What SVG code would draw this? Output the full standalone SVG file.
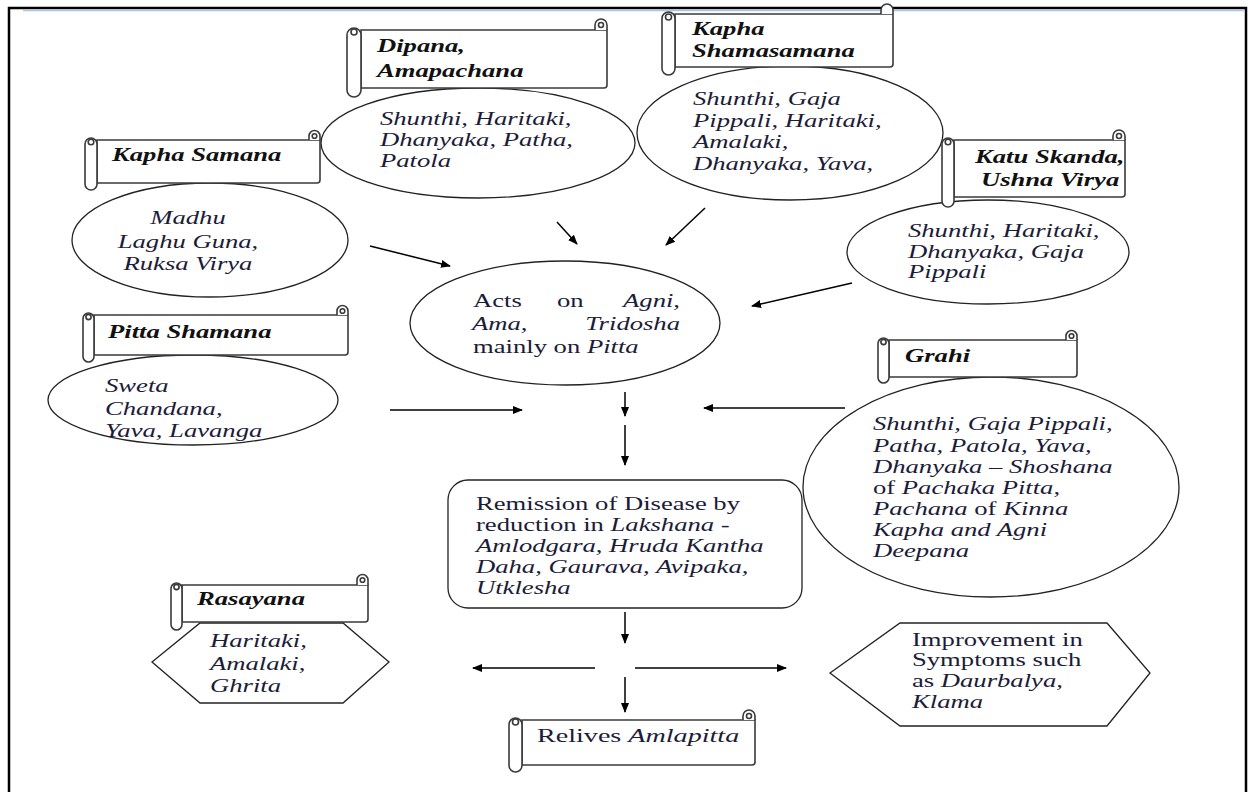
<svg xmlns="http://www.w3.org/2000/svg" width="1254" height="792" viewBox="0 0 1254 792">
<style>
.sb{fill:#fff;stroke:#3a3a3a;stroke-width:1.6}
.nd{fill:#fff;stroke:#222;stroke-width:1.3}
.ttl{font-family:"Liberation Serif",serif;font-size:18px;font-weight:bold;font-style:italic;fill:#111}
.tx{font-family:"Liberation Serif",serif;font-size:18px;font-style:italic;fill:#1c1c38}
.r{font-style:normal}
.big{font-size:19px}
.cn line{stroke:#000;stroke-width:1.5;marker-end:url(#ah)}
</style>
<defs>
<marker id="ah" viewBox="0 0 10 10" refX="9" refY="5" markerWidth="10" markerHeight="10" markerUnits="userSpaceOnUse" orient="auto"><path d="M0,1 L10,5 L0,9 z" fill="#000"/></marker>
</defs>
<rect x="0" y="0" width="1254" height="792" fill="#fff"/>
<rect x="9" y="8" width="1237" height="792" fill="none" stroke="#000" stroke-width="2.5"/>
<line x1="23" y1="10.5" x2="1244" y2="10.5" stroke="#a9c6e4" stroke-width="1.6"/>

<!-- Dipana -->
<g id="dipana">
<ellipse class="nd" cx="478" cy="143" rx="157" ry="55"/>
<path class="sb" d="M361,30 H607 V85 Q607,88 604,88 H361 Z"/>
<path class="sb" d="M595,30 V25 A6,6 0 0 1 607,25 V30"/>
<circle class="sb" cx="601" cy="25" r="2.5"/>
<rect class="sb" x="347" y="28" width="14" height="69" rx="7"/>
<circle class="sb" cx="354" cy="32" r="3"/>
<text class="ttl" transform="translate(377,52) scale(1.48,1)"><tspan x="0" y="0">Dipana,</tspan><tspan x="0" y="25">Amapachana</tspan></text>
<text class="tx" transform="translate(380,125) scale(1.48,1)"><tspan x="0" y="0">Shunthi, Haritaki,</tspan><tspan x="0" y="21">Dhanyaka, Patha,</tspan><tspan x="0" y="42">Patola</tspan></text>
</g>

<!-- Kapha Shamasamana -->
<g id="kapha-shamasamana">
<ellipse class="nd" cx="790" cy="133" rx="153" ry="67"/>
<path class="sb" d="M675,14 H893 V64 Q893,67 890,67 H675 Z"/>
<path class="sb" d="M881,14 V10 A6,6 0 0 1 893,10 V14"/>
<rect class="sb" x="662" y="12" width="13" height="63" rx="6.5"/>
<circle class="sb" cx="668.5" cy="17" r="3"/>
<text class="ttl" transform="translate(692,35) scale(1.48,1)"><tspan x="0" y="0">Kapha</tspan><tspan x="0" y="22">Shamasamana</tspan></text>
<text class="tx" transform="translate(693,105) scale(1.48,1)"><tspan x="0" y="0">Shunthi, Gaja</tspan><tspan x="0" y="22">Pippali, Haritaki,</tspan><tspan x="0" y="43">Amalaki,</tspan><tspan x="0" y="65">Dhanyaka, Yava,</tspan></text>
</g>

<!-- Kapha Samana -->
<g id="kapha-samana">
<ellipse class="nd" cx="210" cy="240" rx="138" ry="57"/>
<path class="sb" d="M97,140 H320 V180 Q320,183 317,183 H97 Z"/>
<path class="sb" d="M309,140 V136 A5.5,5.5 0 0 1 320,136 V140"/>
<circle class="sb" cx="314.5" cy="136" r="2.3"/>
<rect class="sb" x="85" y="138" width="12" height="52" rx="6"/>
<circle class="sb" cx="91" cy="142" r="2.8"/>
<text class="ttl" transform="translate(112,161) scale(1.48,1)">Kapha Samana</text>
<text class="tx" text-anchor="middle" transform="translate(188,224) scale(1.48,1)"><tspan x="0" y="0">Madhu</tspan><tspan x="0" y="24">Laghu Guna,</tspan><tspan x="0" y="46">Ruksa Virya</tspan></text>
</g>

<!-- Katu Skanda -->
<g id="katu-skanda">
<ellipse class="nd" cx="988" cy="252" rx="141" ry="52"/>
<path class="sb" d="M954,140 H1125 V194 Q1125,197 1122,197 H954 Z"/>
<path class="sb" d="M1113,140 V136 A6,6 0 0 1 1125,136 V140"/>
<circle class="sb" cx="1119" cy="136" r="2.5"/>
<rect class="sb" x="942" y="138" width="12" height="69" rx="6"/>
<circle class="sb" cx="948" cy="142" r="2.8"/>
<text class="ttl" transform="translate(975,163) scale(1.48,1)"><tspan x="0" y="0">Katu Skanda,</tspan><tspan x="4" y="23">Ushna Virya</tspan></text>
<text class="tx" transform="translate(908,237) scale(1.48,1)"><tspan x="0" y="0">Shunthi, Haritaki,</tspan><tspan x="0" y="21">Dhanyaka, Gaja</tspan><tspan x="0" y="41">Pippali</tspan></text>
</g>

<!-- Center -->
<g id="acts">
<ellipse class="nd" cx="565" cy="323" rx="155" ry="62"/>
<text class="tx r" transform="translate(473,307) scale(1.48,1)">Acts</text>
<text class="tx r" transform="translate(557,307) scale(1.48,1)">on</text>
<text class="tx" text-anchor="end" transform="translate(680,307) scale(1.48,1)">Agni,</text>
<text class="tx" transform="translate(472,330) scale(1.48,1)">Ama,</text>
<text class="tx" text-anchor="end" transform="translate(680,330) scale(1.48,1)">Tridosha</text>
<text class="tx r" transform="translate(473,353) scale(1.48,1)">mainly on <tspan font-style="italic">Pitta</tspan></text>
</g>

<!-- Pitta Shamana -->
<g id="pitta-shamana">
<ellipse class="nd" cx="193" cy="400" rx="145" ry="45"/>
<path class="sb" d="M94,315 H348 V352 Q348,355 345,355 H94 Z"/>
<path class="sb" d="M337,315 V311 A5.5,5.5 0 0 1 348,311 V315"/>
<circle class="sb" cx="342.5" cy="311" r="2.3"/>
<rect class="sb" x="83" y="313" width="11" height="49" rx="5.5"/>
<circle class="sb" cx="88.5" cy="317" r="2.6"/>
<text class="ttl" transform="translate(108,338) scale(1.48,1)">Pitta Shamana</text>
<text class="tx" transform="translate(105,392) scale(1.48,1)"><tspan x="0" y="0">Sweta</tspan><tspan x="0" y="23">Chandana,</tspan><tspan x="0" y="45">Yava, Lavanga</tspan></text>
</g>

<!-- Grahi -->
<g id="grahi">
<ellipse class="nd" cx="991" cy="487" rx="188" ry="110"/>
<path class="sb" d="M889,340 H1077 V374 Q1077,377 1074,377 H889 Z"/>
<path class="sb" d="M1066,340 V336 A5.5,5.5 0 0 1 1077,336 V340"/>
<circle class="sb" cx="1071.5" cy="336" r="2.3"/>
<rect class="sb" x="878" y="338" width="11" height="45" rx="5.5"/>
<circle class="sb" cx="883.5" cy="342" r="2.6"/>
<text class="ttl" transform="translate(905,362) scale(1.48,1)">Grahi</text>
<text class="tx" transform="translate(873,430) scale(1.48,1)"><tspan x="0" y="0">Shunthi, Gaja Pippali,</tspan><tspan x="0" y="22">Patha, Patola, Yava,</tspan><tspan x="0" y="43">Dhanyaka – Shoshana</tspan><tspan x="0" y="64"><tspan font-style="normal">of </tspan>Pachaka Pitta,</tspan><tspan x="0" y="85">Pachana<tspan font-style="normal"> of </tspan>Kinna</tspan><tspan x="0" y="106">Kapha and Agni</tspan><tspan x="0" y="127">Deepana</tspan></text>
</g>

<!-- Remission -->
<g id="remission">
<rect class="nd" x="448" y="480" width="354" height="128" rx="20"/>
<text class="tx" transform="translate(476,510) scale(1.48,1)"><tspan x="0" y="0" font-style="normal">Remission of Disease by</tspan><tspan x="0" y="21"><tspan font-style="normal">reduction in </tspan>Lakshana -</tspan><tspan x="0" y="42">Amlodgara, Hruda Kantha</tspan><tspan x="0" y="63">Daha, Gaurava, Avipaka,</tspan><tspan x="0" y="84">Utklesha</tspan></text>
</g>

<!-- Rasayana -->
<g id="rasayana">
<polygon class="nd" points="200,623 343,623 389,662 343,703 200,703 152,662"/>
<path class="sb" d="M182,585 H368 V619 Q368,622 365,622 H182 Z"/>
<path class="sb" d="M357,585 V580 A5.5,5.5 0 0 1 368,580 V585"/>
<circle class="sb" cx="362.5" cy="580" r="2.3"/>
<rect class="sb" x="171" y="583" width="11" height="47" rx="5.5"/>
<circle class="sb" cx="176.5" cy="587" r="2.6"/>
<text class="ttl" transform="translate(197,605) scale(1.48,1)">Rasayana</text>
<text class="tx" transform="translate(210,647) scale(1.48,1)"><tspan x="0" y="0">Haritaki,</tspan><tspan x="0" y="23">Amalaki,</tspan><tspan x="0" y="45">Ghrita</tspan></text>
</g>

<!-- Improvement -->
<g id="improvement">
<polygon class="nd" points="830,673 900,623 1107,623 1150,673 1107,726 900,726"/>
<text class="tx" transform="translate(912,646) scale(1.48,1)"><tspan x="0" y="0" font-style="normal">Improvement in</tspan><tspan x="0" y="20" font-style="normal">Symptoms such</tspan><tspan x="0" y="41"><tspan font-style="normal">as </tspan>Daurbalya,</tspan><tspan x="0" y="62">Klama</tspan></text>
</g>

<!-- Relives -->
<g id="relives">
<path class="sb" d="M522,720 H755 V762 Q755,765 752,765 H522 Z"/>
<path class="sb" d="M743,720 V716 A6,6 0 0 1 755,716 V720"/>
<circle class="sb" cx="749" cy="716" r="2.5"/>
<rect class="sb" x="509" y="718" width="13" height="54" rx="6.5"/>
<circle class="sb" cx="515.5" cy="722" r="3"/>
<text class="tx r big" transform="translate(537,742) scale(1.48,1)">Relives <tspan font-style="italic">Amlapitta</tspan></text>
</g>

<g id="connectors" class="cn">
<line x1="370" y1="246" x2="450" y2="266"/>
<line x1="557" y1="222" x2="577" y2="244"/>
<line x1="705" y1="208" x2="666" y2="245"/>
<line x1="852" y1="283" x2="752" y2="306"/>
<line x1="390" y1="410" x2="522" y2="410"/>
<line x1="845" y1="408" x2="704" y2="408"/>
<line x1="625" y1="392" x2="625" y2="416"/>
<line x1="625" y1="425" x2="625" y2="465"/>
<line x1="625" y1="612" x2="625" y2="643"/>
<line x1="595" y1="668" x2="473" y2="668"/>
<line x1="635" y1="668" x2="786" y2="668"/>
<line x1="625" y1="677" x2="625" y2="712"/>
</g>
</svg>
